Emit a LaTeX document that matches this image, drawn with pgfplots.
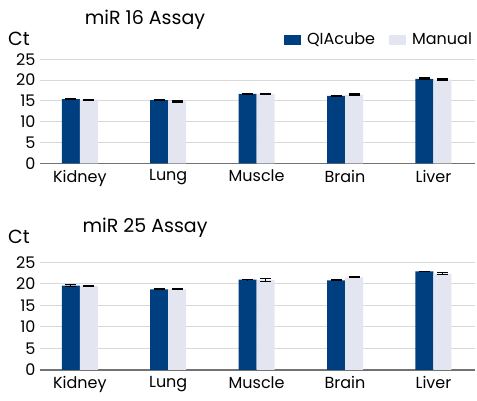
\documentclass[border=0pt]{standalone}
\usepackage{pgfplots}
\pgfplotsset{compat=1.18}
\usepackage{fontspec}
\setmainfont{Poppins}
\definecolor{qdark}{HTML}{003F7F}
\definecolor{qlight}{HTML}{E3E6F1}
\definecolor{qgrid}{HTML}{D9D9D9}
\pgfplotsset{
  panel/.style={
    scale only axis, width=435pt,
    xmin=-0.45, xmax=4.47, ymin=0, ymax=25,
    ybar=0pt, bar width=18pt,
    axis y line=left, axis x line=bottom,
    y axis line style={draw=none},
    x axis line style={draw=gray!90!black, line width=1.2pt, -},
    ytick={0,5,...,25}, ymajorgrids, grid style={qgrid, line width=1pt},
    xtick={0,1,2,3,4}, xticklabels={Kidney,Lung,Muscle,Brain,Liver},
    major tick length=0pt,
    tick label style={font=\fontsize{16}{16}\selectfont},
    /pgf/number format/assume math mode=true,
    yticklabel style={xshift=-1pt},
    xticklabel style={yshift=-3pt},
    error bars/y dir=both, error bars/y explicit,
    error bars/error bar style={black, line width=1.2pt},
    error bars/error mark options={black, line width=1.2pt, mark size=5.5pt, rotate=90},
  },
  dk/.style={fill=qdark, draw=none},
  lt/.style={fill=qlight, draw=none},
}
\begin{document}
\begin{tikzpicture}
\useasboundingbox (-40pt,-31pt) rectangle (437pt,370pt);
% top panel
\begin{axis}[panel, height=104pt, at={(0,206.7pt)},
  legend style={draw=none, fill=none, legend columns=2, at={(1.005,1.19)}, anchor=east,
    font=\fontsize{16}{16}\selectfont,
    /tikz/every even column/.append style={column sep=12pt}},
  legend image code/.code={\fill[#1] (0pt,-5pt) rectangle (17pt,5pt); \path (21pt,0pt);}]
\addplot[dk] coordinates {(0,15.4) +- (0,0.1) (1,15.2) +- (0,0.1) (2,16.7) +- (0,0.15) (3,16.2) +- (0,0.1) (4,20.3) +- (0,0.2)};
\addplot[lt] coordinates {(0,15.3) +- (0,0.1) (1,14.9) +- (0,0.15) (2,16.6) +- (0,0.1) (3,16.5) +- (0,0.15) (4,20.1) +- (0,0.15)};
\legend{QIAcube, Manual}
\end{axis}
% bottom panel
\begin{axis}[panel, height=107.7pt, at={(0,0)}]
\addplot[dk] coordinates {(0,19.6) +- (0,0.3) (1,18.7) +- (0,0.1) (2,21.0) +- (0,0.05) (3,20.8) +- (0,0.1) (4,22.9) +- (0,0.05)};
\addplot[lt] coordinates {(0,19.5) +- (0,0.15) (1,18.7) +- (0,0.1) (2,20.9) +- (0,0.3) (3,21.5) +- (0,0.1) (4,22.4) +- (0,0.15)};
\end{axis}
\node[font=\fontsize{19}{19}\selectfont] at (105pt,350pt) {miR 16 Assay};
\node[font=\fontsize{19}{19}\selectfont] at (-21pt,331pt) {Ct};
\node[font=\fontsize{19}{19}\selectfont] at (105pt,142pt) {miR 25 Assay};
\node[font=\fontsize{19}{19}\selectfont] at (-21pt,133pt) {Ct};
\end{tikzpicture}
\end{document}
